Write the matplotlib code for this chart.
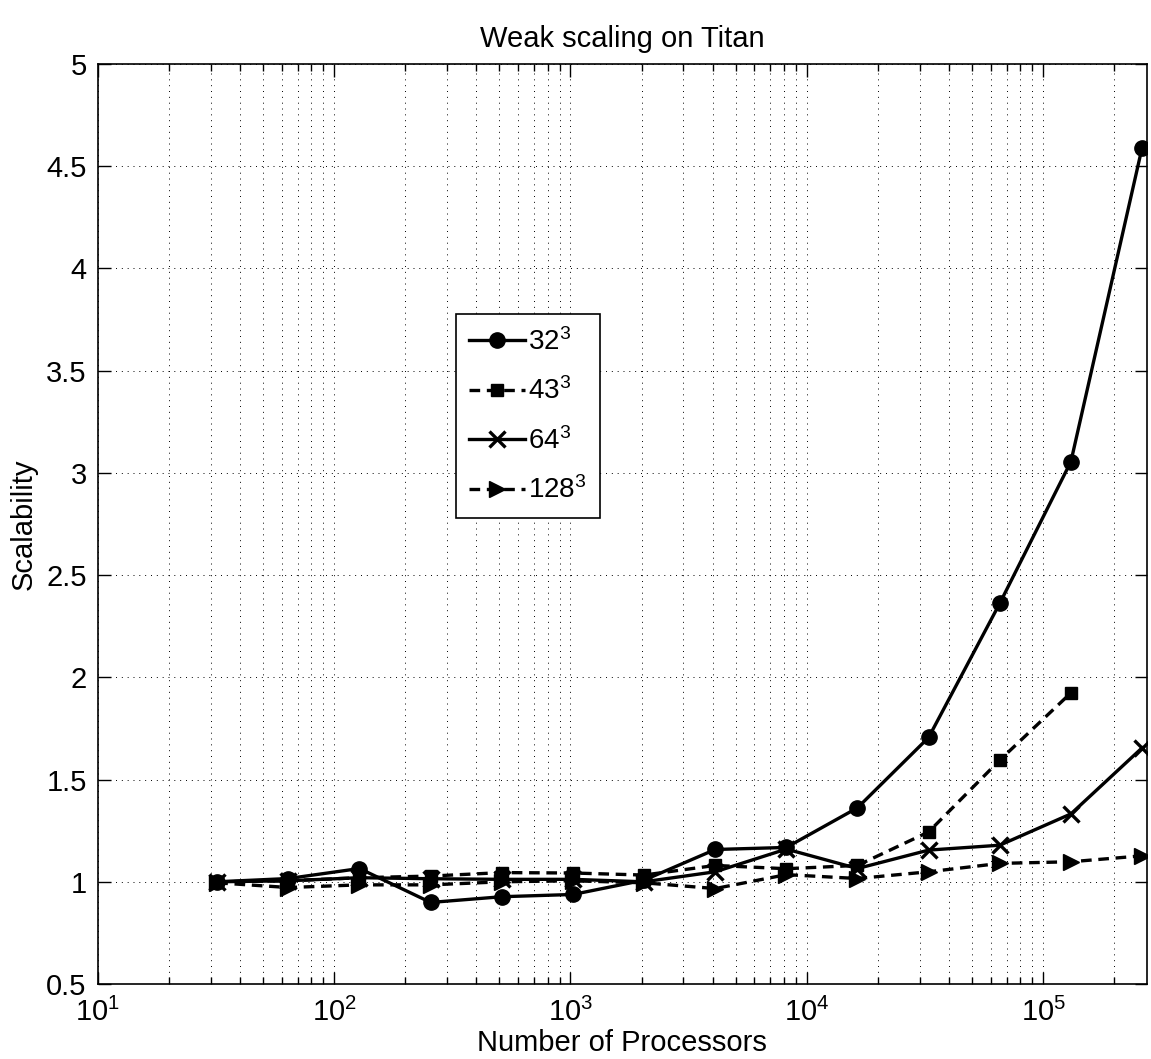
import matplotlib
matplotlib.use("Agg")
import matplotlib.pyplot as plt
from matplotlib.ticker import LogLocator, NullFormatter, MultipleLocator

plt.rcParams['font.family'] = ['Liberation Sans', 'DejaVu Sans']
plt.rcParams['mathtext.fontset'] = 'custom'
plt.rcParams['mathtext.rm'] = 'Liberation Sans'
plt.rcParams['mathtext.it'] = 'Liberation Sans'
plt.rcParams['mathtext.default'] = 'regular'

# processors
procs = [32, 64, 128, 256, 512, 1024, 2048, 4096, 8192, 16384,
         32768, 65536, 131072, 262144]

# scalability per problem size
s32 = [1.0, 1.016, 1.065, 0.899, 0.927, 0.938, 1.008, 1.158, 1.168, 1.362,
       1.706, 2.362, 3.055, 4.59]
s43 = [1.0, 1.005, 1.02, 1.028, 1.045, 1.043, 1.033, 1.08, 1.064, 1.08,
       1.244, 1.595, 1.924]
s64 = [1.0, 1.005, 1.02, 1.015, 1.012, 1.012, 1.0, 1.049, 1.16, 1.065,
       1.155, 1.179, 1.332, 1.655]
s128 = [0.995, 0.972, 0.985, 0.985, 1.0, 1.005, 0.995, 0.967, 1.035, 1.016,
        1.049, 1.09, 1.098, 1.127]

labels = ['$32^3$', '$43^3$', '$64^3$', '$128^3$']

fig = plt.figure(figsize=(11.51, 10.59), dpi=100)
ax = fig.add_axes([0.085, 0.0708, 0.9115, 0.8688])

lw = 2.4
dash = (3.2, 2.0)
ax.plot(procs, s32, '-', color='k', lw=lw, marker='o', ms=11, label=labels[0])
ax.plot(procs[:len(s43)], s43, '--', color='k', lw=lw, marker='s', ms=8,
        dashes=dash, label=labels[1])
ax.plot(procs, s64, '-', color='k', lw=lw, marker='x', ms=11, mew=2.4,
        label=labels[2])
ax.plot(procs, s128, '--', color='k', lw=lw, marker='>', ms=11,
        dashes=dash, label=labels[3])

ax.set_xscale('log')
ax.set_xlim(10, 2.75e5)
ax.set_ylim(0.5, 5)
ax.yaxis.set_major_locator(MultipleLocator(0.5))
ax.yaxis.set_major_formatter(plt.FuncFormatter(lambda v, p: f'{v:g}'))
ax.xaxis.set_major_locator(LogLocator(base=10, numticks=10))
ax.xaxis.set_minor_locator(LogLocator(base=10, subs=range(2, 10), numticks=20))
ax.xaxis.set_minor_formatter(NullFormatter())

ax.grid(True, which='major', linestyle=(0, (1, 5)), color='k', lw=0.7)
ax.grid(True, which='minor', axis='x', linestyle=(0, (1, 5)), color='k', lw=0.7)

ax.tick_params(which='both', direction='in', top=True, right=True,
               labelsize=21, width=1, pad=8)
ax.tick_params(axis='x', which='both', pad=10)
ax.tick_params(which='major', length=9)
ax.tick_params(which='minor', length=5)
for sp in ax.spines.values():
    sp.set_linewidth(1.2)

ax.set_title('Weak scaling on Titan', fontsize=21, pad=12)
ax.set_xlabel('Number of Processors', fontsize=21, labelpad=1)
ax.set_ylabel('Scalability', fontsize=21, labelpad=6)

leg = ax.legend(loc='upper left', bbox_to_anchor=(0.341, 0.728), fontsize=20,
                fancybox=False, edgecolor='k', framealpha=1,
                handlelength=2.0, handletextpad=0.1, labelspacing=0.78,
                borderpad=0.5, borderaxespad=0)
leg.get_frame().set_linewidth(1.2)

fig.savefig('out.png', dpi=100)
